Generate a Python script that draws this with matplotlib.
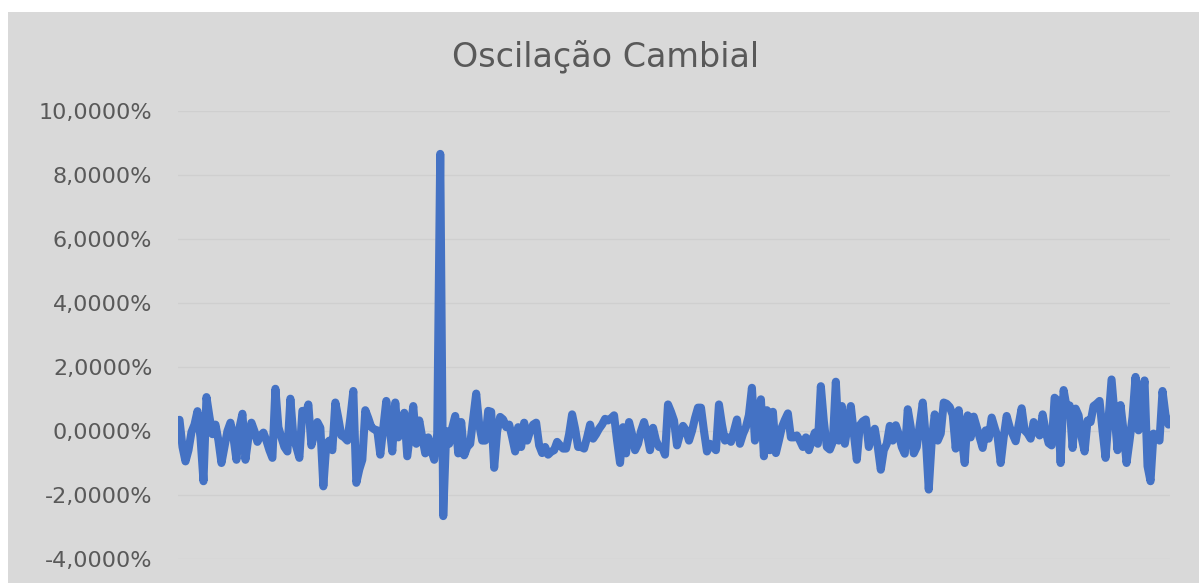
#!/usr/bin/env python3

import matplotlib
matplotlib.use("Agg")
import matplotlib.pyplot as plt
from matplotlib.patches import Rectangle
from matplotlib.ticker import FuncFormatter, MultipleLocator

title = "Oscilação Cambial"

# daily exchange-rate change, in percent
oscilacao = [
    0.35, -0.5, -0.95, -0.6, -0.03, 0.2, 0.62, -0.2, -1.57, 1.06,
    0.44, -0.1, 0.2, -0.3, -1.0, -0.5, 0.0, 0.26, -0.2, -0.9,
    0.1, 0.54, -0.9, -0.2, 0.26, 0.0, -0.34, -0.15, -0.05, -0.3,
    -0.6, -0.84, 1.32, 0.12, -0.2, -0.5, -0.64, 1.01, -0.19, -0.5,
    -0.84, 0.63, 0.5, 0.83, -0.45, -0.1, 0.28, 0.1, -1.73, -0.4,
    -0.3, -0.6, 0.89, 0.4, -0.14, -0.2, -0.3, 0.4, 1.25, -1.62,
    -1.2, -0.9, 0.65, 0.4, 0.12, 0.05, 0.02, -0.74, 0.1, 0.94,
    0.2, -0.64, 0.89, -0.2, 0.2, 0.57, -0.79, 0.0, 0.78, -0.4,
    0.33, -0.2, -0.7, -0.2, -0.6, -0.9, -0.08, 8.66, -2.66, 0.0,
    -0.4, 0.1, 0.47, -0.7, 0.28, -0.76, -0.5, -0.4, 0.4, 1.17,
    0.2, -0.3, -0.3, 0.63, 0.6, -1.15, 0.0, 0.44, 0.36, 0.12,
    0.2, -0.2, -0.64, 0.12, -0.5, 0.26, -0.3, 0.0, 0.2, 0.26,
    -0.45, -0.69, -0.5, -0.74, -0.65, -0.6, -0.34, -0.45, -0.55, -0.55,
    -0.1, 0.52, 0.07, -0.5, -0.5, -0.55, -0.2, 0.2, -0.24, -0.1,
    0.07, 0.2, 0.38, 0.33, 0.4, 0.49, -0.3, -1.0, 0.12, -0.7,
    0.28, -0.1, -0.6, -0.4, 0.0, 0.28, -0.1, -0.6, 0.1, -0.3,
    -0.5, -0.5, -0.74, 0.83, 0.6, 0.33, -0.45, -0.1, 0.16, 0.02,
    -0.3, 0.0, 0.4, 0.73, 0.73, 0.0, -0.64, -0.4, -0.5, -0.6,
    0.83, 0.2, -0.3, -0.2, -0.34, 0.0, 0.36, -0.4, -0.1, 0.12,
    0.5, 1.35, -0.3, 0.3, 0.99, -0.79, 0.65, -0.6, 0.6, -0.69,
    -0.3, 0.12, 0.35, 0.55, -0.2, -0.2, -0.14, -0.3, -0.5, -0.2,
    -0.6, -0.3, -0.05, -0.4, 1.4, 0.3, -0.5, -0.58, -0.34, 1.54,
    -0.3, 0.78, -0.4, 0.2, 0.78, -0.08, -0.9, 0.18, 0.3, 0.36,
    -0.5, -0.1, 0.07, -0.5, -1.21, -0.6, -0.4, 0.16, -0.3, 0.18,
    -0.1, -0.5, -0.71, 0.68, 0.12, -0.7, -0.5, 0.2, 0.89, -0.2,
    -1.83, -0.3, 0.52, -0.3, -0.08, 0.89, 0.85, 0.75, 0.5, -0.55,
    0.65, -0.2, -1.0, 0.49, -0.2, 0.45, 0.12, -0.2, -0.53, 0.02,
    -0.24, 0.42, 0.1, -0.2, -1.0, -0.2, 0.47, 0.12, -0.1, -0.32,
    0.2, 0.71, 0.02, -0.08, -0.24, 0.28, 0.0, -0.14, 0.52, 0.0,
    -0.38, -0.45, 1.04, 0.95, -1.0, 1.28, 0.75, 0.8, -0.53, 0.7,
    0.49, -0.2, -0.64, 0.33, 0.28, 0.78, 0.85, 0.94, 0.0, -0.84,
    0.4, 1.61, 0.5, -0.6, 0.81, 0.0, -1.0, -0.3, 0.44, 1.69,
    0.02, 0.8, 1.58, -1.1, -1.57, -0.08, -0.2, -0.3, 1.25, 0.5,
    0.2,
]

y_ticks = [-4, -2, 0, 2, 4, 6, 8, 10]

BG = "#d9d9d9"
TEXT = "#595959"
LINE = "#4472c4"

plt.rcParams["font.family"] = ["DejaVu Sans"]

W, H = 1199, 583
fig = plt.figure(figsize=(W / 100, H / 100), dpi=100)
fig.patch.set_facecolor("white")
# grey chart area, inset a little from the top and left edges
fig.patches.append(Rectangle((8 / W, 0), 1, 1 - 12 / H, transform=fig.transFigure,
                             facecolor=BG, edgecolor="none", zorder=-10))

ax = fig.add_axes([178 / W, 24 / H, (1170 - 178) / W, (559 - 111) / H])
ax.set_facecolor(BG)
ax.patch.set_alpha(0)

xs = range(len(oscilacao))
ax.plot(xs, oscilacao, color=LINE, lw=5.8, solid_joinstyle="round",
        solid_capstyle="round", zorder=3)

ax.set_xlim(-0.5, len(oscilacao) - 0.5)
ax.set_ylim(min(y_ticks), max(y_ticks))
ax.yaxis.set_major_locator(MultipleLocator(2))
ax.yaxis.set_major_formatter(FuncFormatter(lambda v, _: f"{v:.4f}%".replace(".", ",")))
ax.set_xticks([])
ax.tick_params(axis="y", length=0, pad=18.5, labelsize=16, labelcolor=TEXT)
ax.grid(axis="y", color="#cfcfcf", lw=1)
ax.set_axisbelow(True)
for s in ax.spines.values():
    s.set_visible(False)

fig.text(606 / W, 1 - 57 / H, title, ha="center", va="center",
         fontsize=24, color=TEXT)

fig.savefig("out.png", dpi=100)
